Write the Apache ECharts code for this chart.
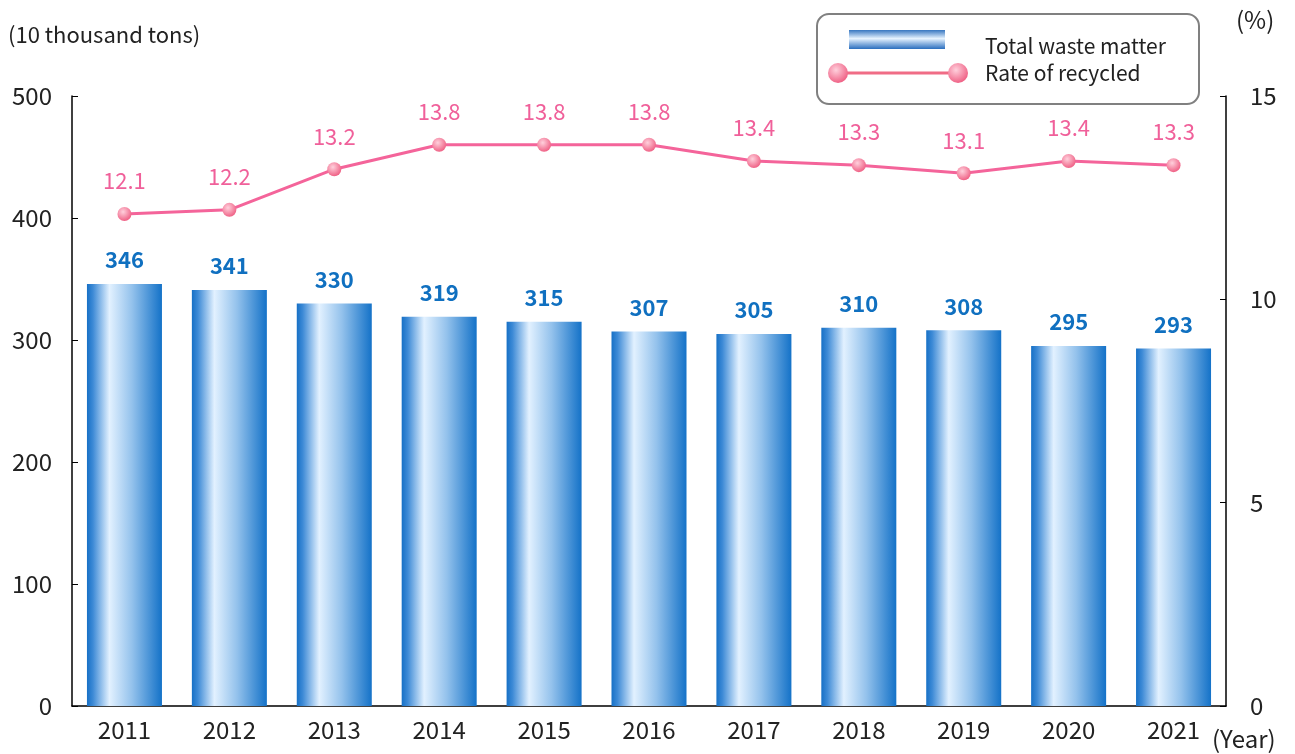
<!DOCTYPE html>
<html>
<head>
<meta charset="utf-8">
<script src="https://cdn.jsdelivr.net/npm/echarts@6/dist/echarts.min.js"></script>
<style>
  html, body { margin: 0; padding: 0; background: #fff; }
  #chart { width: 1295px; height: 754px; }
</style>
</head>
<body>
<div id="chart"></div>
<script>
const years = ['2011', '2012', '2013', '2014', '2015', '2016', '2017', '2018', '2019', '2020', '2021'];
const wasteTotal = [346, 341, 330, 319, 315, 307, 305, 310, 308, 295, 293];
const recycleRate = [12.1, 12.2, 13.2, 13.8, 13.8, 13.8, 13.4, 13.3, 13.1, 13.4, 13.3];
const leftTicks = { min: 0, max: 500, interval: 100 };
const rightTicks = { min: 0, max: 15, interval: 5 };

const font = '"Noto Sans CJK JP", "Noto Sans", sans-serif';
const textColor = '#222';

const chart = echarts.init(document.getElementById('chart'));

const barColor = new echarts.graphic.LinearGradient(0, 0, 1, 0, [
  { offset: 0, color: '#1670c6' },
  { offset: 0.08, color: '#3d8ad6' },
  { offset: 0.3, color: '#e2f1ff' },
  { offset: 0.6, color: '#94c2ec' },
  { offset: 1, color: '#1472c8' }
]);
const dotColor = new echarts.graphic.RadialGradient(0.4, 0.35, 0.7, [
  { offset: 0, color: '#ffd0dc' },
  { offset: 1, color: '#ee5a80' }
]);

const option = {
  animation: false,
  textStyle: { fontFamily: font },
  grid: { left: 72, right: 69, top: 96, bottom: 48 },
  xAxis: {
    type: 'category',
    data: years,
    axisLine: { lineStyle: { color: '#000', width: 1.5 } },
    axisTick: { show: false },
    axisLabel: { color: textColor, fontSize: 24, margin: 12, fontFamily: font }
  },
  yAxis: [
    {
      type: 'value',
      min: leftTicks.min, max: leftTicks.max, interval: leftTicks.interval,
      axisLine: { show: true, lineStyle: { color: '#000', width: 1.5 } },
      axisTick: { show: true, inside: true, length: 6, lineStyle: { color: '#000' } },
      splitLine: { show: false },
      axisLabel: { color: textColor, fontSize: 24, margin: 20, fontFamily: font }
    },
    {
      type: 'value',
      min: rightTicks.min, max: rightTicks.max, interval: rightTicks.interval,
      position: 'right',
      axisLine: { show: true, lineStyle: { color: '#000', width: 1.5 } },
      axisTick: { show: true, inside: true, length: 6, lineStyle: { color: '#000' } },
      splitLine: { show: false },
      axisLabel: { color: textColor, fontSize: 24, margin: 24, fontFamily: font }
    }
  ],
  series: [
    {
      name: 'Total waste matter',
      type: 'bar',
      data: wasteTotal,
      barWidth: 75,
      itemStyle: { color: barColor },
      label: {
        show: true, position: 'top', distance: 13,
        color: '#1070c0', fontSize: 22, fontWeight: 'bold', fontFamily: font
      }
    },
    {
      name: 'Rate of recycled',
      type: 'line',
      yAxisIndex: 1,
      data: recycleRate,
      symbol: 'circle',
      symbolSize: 14,
      lineStyle: { color: '#f4649a', width: 3 },
      itemStyle: { color: dotColor },
      label: {
        show: true, position: 'top', distance: 15,
        color: '#f0609a', fontSize: 22, fontFamily: font,
        formatter: p => p.value.toFixed(1)
      }
    }
  ],
  graphic: [
    { type: 'text', left: 8, top: 24, style: { text: '(10 thousand tons)', fill: textColor, font: '22px ' + font } },
    { type: 'text', left: 1236, top: 8, style: { text: '(%)', fill: textColor, font: '24px ' + font, letterSpacing: 3 } },
    { type: 'text', left: 1212, top: 727, style: { text: '(Year)', fill: textColor, font: '24px ' + font, letterSpacing: 1 } },
    {
      type: 'rect', left: 816, top: 13,
      shape: { width: 382, height: 90, r: 12 },
      style: { fill: '#fff', stroke: '#808080', lineWidth: 2 }
    },
    {
      type: 'rect', left: 849, top: 30,
      shape: { width: 96, height: 19 },
      style: {
        fill: new echarts.graphic.LinearGradient(0, 0, 0, 1, [
          { offset: 0, color: '#3676c0' },
          { offset: 0.45, color: '#e6f3ff' },
          { offset: 1, color: '#2a6ebe' }
        ])
      }
    },
    {
      type: 'line',
      shape: { x1: 838, y1: 73, x2: 958, y2: 73 },
      style: { stroke: '#f06c86', lineWidth: 3 }
    },
    { type: 'circle', shape: { cx: 838, cy: 73, r: 10 }, style: { fill: dotColor } },
    { type: 'circle', shape: { cx: 958, cy: 73, r: 10 }, style: { fill: dotColor } },
    { type: 'text', left: 985, top: 36, style: { text: 'Total waste matter', fill: textColor, font: '21px ' + font } },
    { type: 'text', left: 985, top: 63, style: { text: 'Rate of recycled', fill: textColor, font: '21px ' + font } }
  ]
};

chart.setOption(option);
window.addEventListener('resize', () => chart.resize());
</script>
</body>
</html>
